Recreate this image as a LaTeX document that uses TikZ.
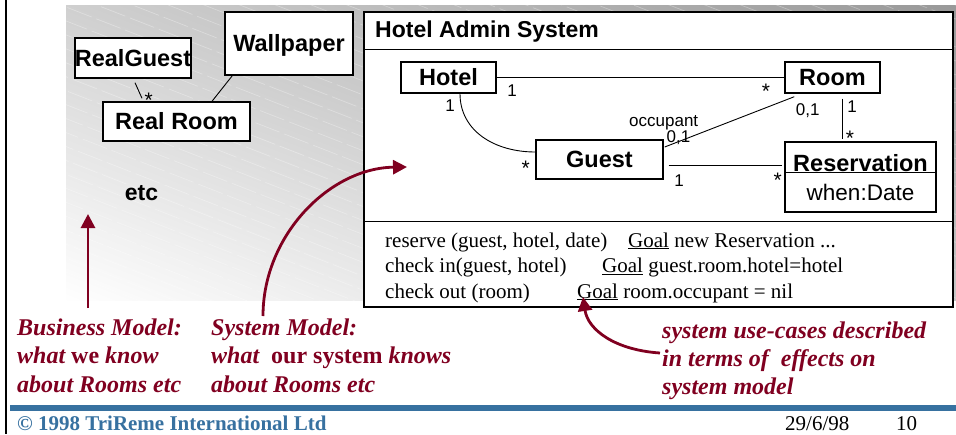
\documentclass[tikz,border=0pt]{standalone}
\usepackage{fontspec}
\setmainfont{Liberation Serif}
\newfontfamily\arial{Liberation Sans}
\usetikzlibrary{arrows.meta,calc}
\definecolor{darkred}{RGB}{128,0,32}
\definecolor{barblue}{RGB}{55,113,160}
\begin{document}
\begin{tikzpicture}[x=1pt,y=-1pt,
 cls/.style={draw=black, line width=1.4pt, fill=white, inner sep=0pt,
   font=\arial\bfseries\fontsize{23.5}{26}\selectfont, text height=16.8pt, text depth=0pt},
 mult/.style={font=\arial\fontsize{17}{19}\selectfont, inner sep=0pt, anchor=base},
 mstar/.style={font=\arial\fontsize{21}{23}\selectfont, inner sep=0pt, anchor=base},
 assoc/.style={line width=0.9pt},
 redarrow/.style={draw=darkred, line width=2.8pt, -{Triangle[width=14pt,length=14pt]}},
 redtxt/.style={text=darkred, font=\fontsize{24}{28}\selectfont\bfseries\itshape, inner sep=0pt, anchor=base west},
 uc/.style={font=\fontsize{21}{25}\selectfont, inner sep=0pt, anchor=base west},
]
\useasboundingbox (0,0) rectangle (956,434);

% gradient background
\begin{scope}
\clip (66,5) rectangle (956,300);
\begin{scope}[shift={(66,300)}, rotate=-21.3]
 \foreach \i in {0,...,99} {
   \pgfmathsetmacro\bv{100*(1-0.0006697*(\i*6+3))}
   \fill[white!\bv!black] (-1500pt,\i*6pt) rectangle (1500pt,\i*6pt+6.6pt);
 }
 \foreach \j in {1,...,46} {
   \draw[white, opacity=0.3, line width=0.7pt, dash pattern=on 26pt off 5pt] (-1500pt,\j*13pt) -- (1500pt,\j*13pt);
 }
\end{scope}
\end{scope}

% page frame and footer bar
\draw[line width=2pt] (5.8,0) -- (5.8,434);
\fill[barblue] (10,405) rectangle (956,411);

% business model
\node[cls, minimum width=116pt, minimum height=40pt] (rg) at (133,58) {RealGuest};
\node[cls, minimum width=128pt, minimum height=63pt] (wp) at (289,43.5) {Wallpaper};
\node[cls, minimum width=147pt, minimum height=39pt] (rr) at (176.5,121.5) {Real Room};
\node[font=\arial\bfseries\fontsize{23}{26}\selectfont, inner sep=0pt, anchor=base] (etc) at (141.5,200) {etc};
\draw[assoc] ($(rg.south)+(2,4)$) -- ($(rr.north)+(-34.5,-3)$);
\node[mstar] at (148.7,107) {*};
\draw[assoc] ($(wp.south west)+(8,0)$) -- ($(rr.north)+(35.5,0)$);

% hotel admin system
\node[draw=black, line width=1.4pt, fill=white, minimum width=589pt, minimum height=295pt, inner sep=0pt] (has) at (658.5,159.5) {};
\draw[line width=1.2pt] ($(has.north west)+(0,38)$) -- ($(has.north east)+(0,38)$);
\draw[line width=1.2pt] ($(has.north west)+(0,210)$) -- ($(has.north east)+(0,210)$);
\node[font=\arial\bfseries\fontsize{23}{26}\selectfont, inner sep=0pt, anchor=base west] (title) at (375,37.3) {Hotel Admin System};

\node[cls, minimum width=95pt, minimum height=31pt] (hotel) at (448.5,77.5) {Hotel};
\node[cls, minimum width=95pt, minimum height=31pt] (room) at (832.5,77.5) {Room};
\node[cls, minimum width=127pt, minimum height=39pt] (guest) at (599.5,159.5) {Guest};
\node[cls, minimum width=151pt, minimum height=70pt] (res) at (860.5,177) {};
\draw[line width=1.2pt] ($(res.north west)+(0,31)$) -- ($(res.north east)+(0,31)$);
\node[font=\arial\bfseries\fontsize{23.5}{26}\selectfont, inner sep=0pt, anchor=base] (resname) at (860.5,171.5) {Reservation};
\node[font=\arial\fontsize{22.5}{26}\selectfont, inner sep=0pt, anchor=base] (resattr) at (860.5,200) {when:Date};

\draw[assoc] (hotel.east) -- (room.west);
\draw[assoc] ($(hotel.south)+(11.5,0)$) .. controls +(0,37) and +(-41,0) .. ($(guest.west)+(0,-7.5)$);
\draw[assoc] ($(guest.east)+(1,-12.5)$) -- ($(room.south west)+(10,3)$);
\draw[assoc] ($(room.south)+(9.5,5)$) -- ($(res.north)+(-18.5,-2)$);
\draw[assoc] ($(guest.east)+(5,5.5)$) -- ($(res.west)+(-2,-12)$);

\node[mult] at (512,96.7) {1};
\node[mstar] at (766,98.5) {*};
\node[mult] at (450,111.7) {1};
\node[mult] at (663.7,126.5) {occupant};
\node[mult] at (678.5,142.5) {0,1};
\node[mult] at (807.7,115) {0,1};
\node[mult] at (852,112.7) {1};
\node[mstar] at (850,145.3) {*};
\node[mstar] at (525.6,175) {*};
\node[mult] at (679,186) {1};
\node[mstar] at (777.7,187) {*};

% use cases
\node[uc] at (385,247) {reserve (guest, hotel, date)};
\node[uc] at (628,247) {\underline{Goal} new Reservation ...};
\node[uc] at (385,272.5) {check in(guest, hotel)};
\node[uc] at (602,272.5) {\underline{Goal} guest.room.hotel=hotel};
\node[uc] at (385,298) {check out (room)};
\node[uc] at (577,298) {\underline{Goal} room.occupant = nil};

% red arrows
\coordinate (bm) at (88,308);
\coordinate (bmtip) at (88,214);
\draw[redarrow] (bm) -- (bmtip);
\coordinate (sm) at (263,316);
\coordinate (smtip) at (407,167);
\draw[redarrow] (sm) .. controls (263,235) and (330,168) .. (smtip);
\coordinate (ucs) at (660,353);
\coordinate (uctip) at (583,297);
\draw[redarrow] (ucs) .. controls (615,350) and (588,330) .. (uctip);

% red labels
\node[redtxt] at (17,335) {Business Model:};
\node[redtxt] at (17,363) {what {\upshape we} know};
\node[redtxt] at (17,392) {about Rooms etc};
\node[redtxt] at (211,335) {System Model:};
\node[redtxt] at (211,363) {what\hspace{6pt} {\upshape our system} knows};
\node[redtxt] at (211,392) {about Rooms etc};
\node[redtxt] at (662,338) {system use-cases described};
\node[redtxt] at (662,366) {in terms of\hspace{6pt} effects on};
\node[redtxt] at (662,394) {system model};

% footer
\node[anchor=base west, inner sep=0pt, text=barblue, font=\fontsize{21}{24}\selectfont\bfseries] at (17,430) {© 1998 TriReme International Ltd};
\node[anchor=base west, inner sep=0pt, font=\fontsize{21}{24}\selectfont] at (785,430) {29/6/98};
\node[anchor=base west, inner sep=0pt, font=\fontsize{21}{24}\selectfont] at (896,430) {10};
\end{tikzpicture}
\end{document}
